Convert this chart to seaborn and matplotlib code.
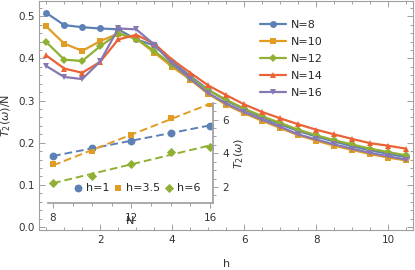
import numpy as np
import pandas as pd
import seaborn as sns
import matplotlib
matplotlib.use("Agg")
import matplotlib.pyplot as plt
from matplotlib.ticker import MultipleLocator

# main panel data: T2(w)/N against h for several system sizes
h_vals = [0.5, 1.0, 1.5, 2.0, 2.5, 3.0, 3.5, 4.0, 4.5, 5.0, 5.5,
          6.0, 6.5, 7.0, 7.5, 8.0, 8.5, 9.0, 9.5, 10.0, 10.5]
t2_n8 = [0.508, 0.479, 0.474, 0.471, 0.469, 0.445, 0.431, 0.392, 0.358, 0.326, 0.300,
         0.279, 0.260, 0.244, 0.228, 0.215, 0.203, 0.192, 0.182, 0.174, 0.166]
t2_n10 = [0.476, 0.435, 0.418, 0.441, 0.459, 0.447, 0.414, 0.380, 0.350, 0.316, 0.290,
          0.270, 0.252, 0.235, 0.218, 0.205, 0.193, 0.183, 0.173, 0.165, 0.158]
t2_n12 = [0.439, 0.397, 0.394, 0.429, 0.459, 0.447, 0.418, 0.384, 0.354, 0.325, 0.302,
          0.281, 0.263, 0.247, 0.231, 0.218, 0.206, 0.196, 0.186, 0.178, 0.170]
t2_n14 = [0.407, 0.376, 0.366, 0.392, 0.445, 0.456, 0.435, 0.397, 0.366, 0.336, 0.313,
          0.291, 0.273, 0.258, 0.244, 0.231, 0.220, 0.209, 0.199, 0.193, 0.186]
t2_n16 = [0.382, 0.356, 0.351, 0.393, 0.471, 0.469, 0.433, 0.388, 0.352, 0.318, 0.293,
          0.273, 0.255, 0.238, 0.220, 0.208, 0.196, 0.186, 0.176, 0.168, 0.160]
sizes = ["N=8", "N=10", "N=12", "N=14", "N=16"]

# inset data: T2(w) against N for three fields
n_vals = [8, 10, 12, 14, 16]
t2_h1 = [3.81, 4.33, 4.75, 5.22, 5.64]
t2_h35 = [3.36, 4.11, 5.06, 6.10, 6.94]
t2_h6 = [2.26, 2.67, 3.36, 4.07, 4.37]
fields = ["h=1", "h=3.5", "h=6"]

colors = ["#5E81B5", "#E19C24", "#8FB032", "#EB6235", "#8778B3"]
markers = ["o", "s", "D", "^", "v"]
msizes = [5, 3.8, 4.5, 5, 5]

sns.set_theme(style="ticks")
plt.rcParams["font.family"] = ["DejaVu Sans"]
plt.rcParams["axes.edgecolor"] = "#a0a0a0"
plt.rcParams["xtick.color"] = "#a0a0a0"
plt.rcParams["ytick.color"] = "#a0a0a0"
plt.rcParams["xtick.labelcolor"] = "#333333"
plt.rcParams["ytick.labelcolor"] = "#333333"
plt.rcParams["mathtext.fontset"] = "dejavusans"

fig = plt.figure(figsize=(4.15, 2.7), dpi=100)
ax = fig.add_axes([0.095, 0.148, 0.90, 0.848])

df = pd.DataFrame({"h": h_vals * 5,
                   "T2": t2_n8 + t2_n10 + t2_n12 + t2_n14 + t2_n16,
                   "N": np.repeat(sizes, len(h_vals))})

for i, lab in enumerate(sizes):
    sub = df[df["N"] == lab]
    sns.lineplot(data=sub, x="h", y="T2", color=colors[i], marker=markers[i],
                 markersize=msizes[i], markeredgewidth=0, linewidth=1.6,
                 label=lab, ax=ax)

ax.set_xlim(0.31, 10.69)
ax.set_ylim(-0.007, 0.536)
ax.xaxis.set_major_locator(MultipleLocator(2))
ax.xaxis.set_minor_locator(MultipleLocator(0.5))
ax.yaxis.set_major_locator(MultipleLocator(0.1))
ax.yaxis.set_minor_locator(MultipleLocator(0.02))
ax.yaxis.set_major_formatter(matplotlib.ticker.FormatStrFormatter("%.1f"))
ax.tick_params(which="both", direction="in", top=True, right=True, labelsize=7.5, width=0.7)
ax.tick_params(which="major", length=4)
ax.tick_params(which="minor", length=2)
for s in ax.spines.values():
    s.set_linewidth(0.8)
ax.set_xlabel("h", fontsize=8, color="#333333", labelpad=10)
ax.set_ylabel(r"$T_2(\omega)$/N", fontsize=8, color="#333333", labelpad=4)

ax.legend(loc="upper right", bbox_to_anchor=(0.785, 0.96), frameon=False,
          fontsize=8, handlelength=2.4, labelspacing=0.62, handletextpad=0.4)

# inset
ins = fig.add_axes([0.116, 0.248, 0.397, 0.371])
ins.patch.set_alpha(0)
idf = pd.DataFrame({"N": n_vals * 3,
                    "T2": t2_h1 + t2_h35 + t2_h6,
                    "h": np.repeat(fields, len(n_vals))})
ins_markers = ["o", "s", "D"]
ins_sizes = [32, 16, 22]
for i, lab in enumerate(fields):
    sub = idf[idf["h"] == lab]
    sns.regplot(data=sub, x="N", y="T2", ci=None, ax=ins, color=colors[i],
                marker=ins_markers[i], scatter_kws={"s": ins_sizes[i], "linewidths": 0, "alpha": 1},
                line_kws={"linestyle": (0, (4, 2)), "linewidth": 1.4}, label=lab)

ins.set_xlim(7.75, 16.15)
ins.set_ylim(1.04, 7.0)
ins.spines["top"].set_visible(False)
ins.spines["left"].set_visible(False)
ins.yaxis.tick_right()
ins.yaxis.set_label_position("right")
ins.set_xticks([8, 12, 16])
ins.set_yticks([2, 4, 6])
ins.xaxis.set_minor_locator(MultipleLocator(1))
ins.yaxis.set_minor_locator(MultipleLocator(0.5))
ins.tick_params(which="both", direction="out", labelsize=7.5, width=0.7)
ins.tick_params(which="major", length=3.5)
ins.tick_params(which="minor", length=2)
ins.set_xlabel("N", fontsize=8, color="#333333", labelpad=-5)
ins.set_ylabel(r"$T_2(\omega)$", fontsize=8, color="#333333", labelpad=2)
ins.legend(loc="lower center", bbox_to_anchor=(0.54, 0.0), ncol=3, frameon=False,
           fontsize=8, handlelength=0.8, handletextpad=0.3, columnspacing=0.4)

fig.savefig("out.png", dpi=100)
